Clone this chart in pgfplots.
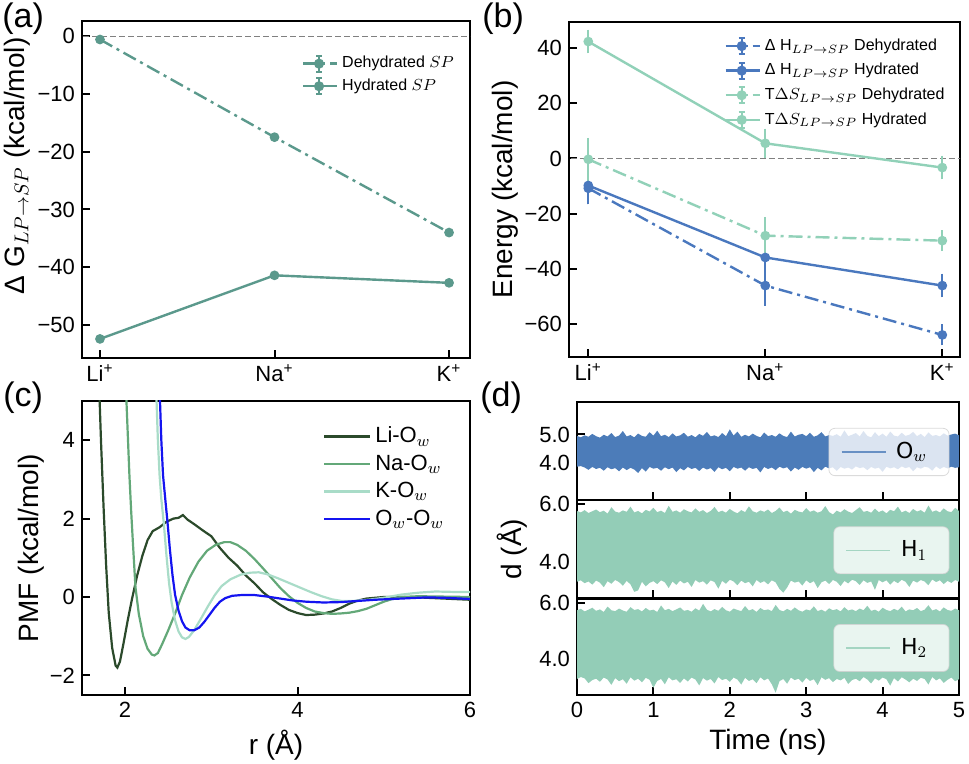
\documentclass[border=0pt]{standalone}
\usepackage{fontspec}
\setmainfont{Liberation Sans}
\newfontfamily\dejavu{DejaVu Sans}
\usepackage{pgfplots}
\pgfplotsset{compat=1.18}

\definecolor{tealA}{HTML}{5B998C}
\definecolor{hblue}{HTML}{4A78BE}
\definecolor{sgreen}{HTML}{91D1B8}
\definecolor{bandblue}{HTML}{4C7CB9}
\definecolor{bandgreen}{HTML}{93CDB7}
\definecolor{lio}{HTML}{2B4A2B}
\definecolor{nao}{HTML}{63A878}
\definecolor{ko}{HTML}{A9DCC8}
\definecolor{owblue}{HTML}{1414F0}

\tikzset{dashdot/.style={dash pattern=on 7pt off 2.5pt on 1.5pt off 2.5pt}}
\pgfplotsset{
  panel/.style={scale only axis, anchor=north west,
    axis line style={line width=1.3pt}, tick align=inside, tick pos=left,
    major tick length=4pt, tick style={line width=1pt, black},
    ticklabel style={font=\fontsize{11}{13}\selectfont},
    label style={font=\fontsize{14}{16}\selectfont}, legend cell align=left},
  mplot/.style={line width=1.2pt, mark=*, mark size=1.8pt, mark options={solid}},
  errplot/.style={mplot,
    error bars/.cd, y dir=both, y explicit,
    error bar style={solid, line width=1pt},
    error mark options={line width=1pt, mark size=2.5pt}},
}

\begin{document}
\begin{tikzpicture}
\useasboundingbox (0,0) rectangle (484.5pt,-382pt);

% (a)
\node[anchor=north west, inner sep=0pt, font=\fontsize{17}{19}\selectfont] at (1pt,-1pt) {(a)};
\begin{axis}[panel, at={(41pt,-10.5pt)}, width=194pt, height=168.5pt,
  xmin=-0.103, xmax=2.12, ymin=-55.7, ymax=2.6,
  xtick={0,1,2}, xticklabels={Li\textsuperscript{+},Na\textsuperscript{+},K\textsuperscript{+}},
  ytick={-50,-40,-30,-20,-10,0}, yticklabels={−50,−40,−30,−20,−10,0},
  ylabel={Δ G$_{LP\to SP}$ (kcal/mol)},
  ylabel style={at={(axis description cs:-0.168,0.57)}, anchor=center},
  legend style={draw=none, fill=none, at={(axis description cs:0.985,0.92)}, anchor=north east,
    font=\fontsize{8}{9.5}\selectfont, row sep=0pt},
  legend image code/.code={
    \draw[#1] (0pt,0pt) -- (17pt,0pt);
    \draw[#1,solid,line width=0.9pt] (8pt,-4pt) -- (8pt,4pt) (6.5pt,4pt) -- (9.5pt,4pt) (6.5pt,-4pt) -- (9.5pt,-4pt);
    \fill[#1,solid] (8pt,0pt) circle (1.9pt);}]
\addplot[gray, line width=0.5pt, dash pattern=on 3pt off 1.5pt, forget plot] coordinates {(-0.2,0) (2.2,0)};
\addplot[tealA, dashdot, mplot] coordinates {(0,-0.6) (1,-17.5) (2,-34.0)};
\addlegendentry{Dehydrated $SP$}
\addplot[tealA, mplot] coordinates {(0,-52.4) (1,-41.4) (2,-42.7)};
\addlegendentry{Hydrated $SP$}
\end{axis}

% (b)
\node[anchor=north west, inner sep=0pt, font=\fontsize{17}{19}\selectfont] at (241pt,-1pt) {(b)};
\begin{axis}[panel, at={(284.5pt,-11pt)}, width=195.5pt, height=167.5pt,
  xmin=-0.109, xmax=2.10, ymin=-72, ymax=49.5,
  xtick={0,1,2}, xticklabels={Li\textsuperscript{+},Na\textsuperscript{+},K\textsuperscript{+}},
  ytick={-60,-40,-20,0,20,40}, yticklabels={−60,−40,−20,0,20,40},
  ylabel={Energy (kcal/mol)},
  ylabel style={at={(axis description cs:-0.164,0.5)}, anchor=center},
  legend style={draw=none, fill=none, at={(axis description cs:0.987,0.975)}, anchor=north east,
    font=\fontsize{8}{9.5}\selectfont, row sep=1pt},
  legend image code/.code={
    \draw[#1] (0pt,0pt) -- (17pt,0pt);
    \draw[#1,solid,line width=0.9pt] (8pt,-4pt) -- (8pt,4pt) (6.5pt,4pt) -- (9.5pt,4pt) (6.5pt,-4pt) -- (9.5pt,-4pt);
    \fill[#1,solid] (8pt,0pt) circle (1.9pt);}]
\addplot[gray, line width=0.5pt, dash pattern=on 3pt off 1.5pt, forget plot] coordinates {(-0.2,0) (2.2,0)};
\addplot[hblue, dashdot, errplot] coordinates {(0,-10.8) +- (0,4) (1,-46.1) +- (0,5.5) (2,-64.0) +- (0,2)};
\addlegendentry{Δ H$_{LP\to SP}$ Dehydrated}
\addplot[hblue, errplot] coordinates {(0,-9.8) +- (0,5) (1,-35.9) +- (0,3.5) (2,-46.1) +- (0,2.5)};
\addlegendentry{Δ H$_{LP\to SP}$ Hydrated}
\addplot[sgreen, dashdot, errplot] coordinates {(0,-0.3) +- (0,6) (1,-28.0) +- (0,5) (2,-29.8) +- (0,2)};
\addlegendentry{T$\Delta S_{LP\to SP}$ Dehydrated}
\addplot[sgreen, errplot] coordinates {(0,42.4) +- (0,2.5) (1,5.5) +- (0,3.5) (2,-3.3) +- (0,2.5)};
\addlegendentry{T$\Delta S_{LP\to SP}$ Hydrated}
\end{axis}

% (c)
\node[anchor=north west, inner sep=0pt, font=\fontsize{17}{19}\selectfont] at (1.5pt,-190.5pt) {(c)};
\begin{axis}[panel, at={(41pt,-200.5pt)}, width=194pt, height=147pt,
  xmin=1.5, xmax=6, ymin=-2.5, ymax=5,
  xtick={2,4,6}, xticklabels={2,4,6}, ytick={-2,0,2,4}, yticklabels={−2,0,2,4},
  xlabel={r (Å)}, ylabel={PMF (kcal/mol)},
  xlabel style={at={(axis description cs:0.5,-0.17)}, anchor=center},
  ylabel style={at={(axis description cs:-0.13,0.5)}, anchor=center},
  legend style={draw=none, fill=none, at={(axis description cs:0.96,0.94)}, anchor=north east,
    font=\fontsize{11}{13}\selectfont, row sep=0.5pt},
  legend image code/.code={\draw[#1] (0pt,0pt) -- (23pt,0pt);},
  every axis plot/.append style={line width=1.1pt}]
\addplot[lio] coordinates {(1.70,5.3) (1.72,4.0) (1.75,2.3) (1.78,0.8) (1.81,-0.4) (1.85,-1.3) (1.89,-1.75) (1.91,-1.80) (1.94,-1.65) (1.98,-1.2) (2.03,-0.6) (2.08,-0.05) (2.14,0.55) (2.20,1.05) (2.26,1.45) (2.32,1.68) (2.40,1.78) (2.48,1.92) (2.56,2.0) (2.62,2.02) (2.67,2.09) (2.72,1.98) (2.80,1.86) (2.90,1.70) (3.00,1.55) (3.10,1.25) (3.20,1.00) (3.30,0.80) (3.40,0.55) (3.50,0.35) (3.60,0.12) (3.70,-0.05) (3.80,-0.20) (3.90,-0.33) (4.00,-0.41) (4.10,-0.46) (4.20,-0.45) (4.30,-0.42) (4.40,-0.37) (4.50,-0.28) (4.60,-0.17) (4.70,-0.09) (4.80,-0.04) (4.90,-0.02) (5.00,0.0) (5.20,0.0) (5.40,-0.01) (5.60,-0.03) (5.80,-0.05) (6.00,-0.07)};
\addlegendentry{Li-O$_w$}
\addplot[nao] coordinates {(2.01,5.3) (2.03,4.2) (2.05,3.1) (2.07,2.2) (2.09,1.4) (2.12,0.25) (2.16,-0.45) (2.21,-1.0) (2.26,-1.32) (2.31,-1.47) (2.34,-1.49) (2.38,-1.43) (2.43,-1.20) (2.50,-0.85) (2.58,-0.42) (2.66,0.05) (2.75,0.50) (2.85,0.90) (2.95,1.18) (3.05,1.33) (3.15,1.40) (3.22,1.40) (3.30,1.33) (3.40,1.18) (3.50,0.97) (3.60,0.73) (3.70,0.48) (3.80,0.23) (3.90,0.02) (4.00,-0.15) (4.10,-0.28) (4.20,-0.37) (4.30,-0.41) (4.40,-0.43) (4.50,-0.42) (4.60,-0.40) (4.70,-0.36) (4.80,-0.30) (4.90,-0.21) (5.00,-0.12) (5.10,-0.05) (5.20,0.0) (5.40,0.02) (5.70,0.01) (6.00,0.0)};
\addlegendentry{Na-O$_w$}
\addplot[ko] coordinates {(2.36,5.3) (2.38,4.0) (2.40,3.1) (2.42,2.5) (2.45,1.85) (2.48,1.05) (2.51,0.35) (2.54,-0.15) (2.58,-0.60) (2.62,-0.88) (2.66,-1.03) (2.70,-1.07) (2.74,-1.02) (2.80,-0.85) (2.88,-0.55) (2.96,-0.24) (3.04,0.05) (3.12,0.28) (3.22,0.45) (3.34,0.57) (3.45,0.62) (3.55,0.63) (3.65,0.58) (3.77,0.48) (3.90,0.36) (4.04,0.23) (4.16,0.12) (4.28,0.02) (4.40,-0.06) (4.51,-0.10) (4.65,-0.10) (4.82,-0.07) (5.00,-0.02) (5.20,0.06) (5.40,0.11) (5.60,0.14) (5.80,0.13) (6.00,0.13)};
\addlegendentry{K-O$_w$}
\addplot[owblue] coordinates {(2.40,5.3) (2.42,4.0) (2.44,3.1) (2.47,2.4) (2.49,1.95) (2.52,1.2) (2.55,0.55) (2.58,0.05) (2.62,-0.35) (2.66,-0.62) (2.70,-0.78) (2.75,-0.85) (2.80,-0.85) (2.86,-0.78) (2.92,-0.63) (2.98,-0.45) (3.04,-0.27) (3.10,-0.12) (3.16,-0.03) (3.24,0.03) (3.35,0.05) (3.50,0.05) (3.65,0.01) (3.80,-0.04) (3.95,-0.09) (4.10,-0.12) (4.30,-0.14) (4.50,-0.13) (4.70,-0.10) (4.90,-0.07) (5.10,-0.05) (5.30,-0.03) (5.50,-0.01) (5.70,-0.02) (6.00,-0.05)};
\addlegendentry{O$_w$-O$_w$}
\end{axis}

% (d)
\node[anchor=north west, inner sep=0pt, font=\fontsize{17}{19}\selectfont] at (240pt,-190.5pt) {(d)};
\pgfplotsset{dpanel/.style={panel, width=191pt, xmin=0, xmax=5, ymin=2.72, ymax=6.13,
  xtick={0,1,2,3,4,5},
  legend style={at={(axis description cs:0.975,0.49)}, anchor=east, fill=white, fill opacity=0.8,
    draw=gray!35, draw opacity=0.8, text opacity=1, rounded corners=3pt,
    font=\dejavu\fontsize{11}{13}\selectfont, inner xsep=6pt, inner ysep=5pt,
    nodes={inner xsep=5pt}},
  legend image code/.code={\draw[#1] (0pt,0pt) -- (22pt,0pt);}}}
\begin{axis}[dpanel, at={(288.5pt,-201pt)}, height=49pt, xticklabels={},
  ytick={4,5}, yticklabels={4.0,5.0}]
\addplot[fill=bandblue, draw=none, forget plot] coordinates {
(0.00,4.95) (0.05,4.90) (0.10,4.97) (0.15,4.92) (0.20,5.02) (0.25,4.94) (0.30,4.89) (0.35,4.99) (0.40,4.93) (0.45,5.05) (0.50,4.91) (0.55,4.96) (0.60,5.12) (0.65,4.93) (0.70,4.98) (0.75,4.90) (0.80,5.03) (0.85,4.95) (0.90,4.92) (0.95,5.08) (1.00,4.96) (1.05,5.13) (1.10,4.94) (1.15,4.99) (1.20,4.91) (1.25,5.04) (1.30,4.93) (1.35,4.97) (1.40,5.06) (1.45,4.92) (1.50,4.98) (1.55,4.90) (1.60,5.02) (1.65,4.95) (1.70,5.09) (1.75,4.93) (1.80,4.97) (1.85,4.91) (1.90,5.05) (1.95,4.94) (2.00,5.18) (2.05,4.96) (2.10,5.10) (2.15,4.92) (2.20,4.99) (2.25,4.93) (2.30,5.03) (2.35,4.95) (2.40,4.90) (2.45,5.07) (2.50,4.94) (2.55,4.98) (2.60,4.92) (2.65,5.04) (2.70,4.95) (2.75,4.91) (2.80,5.10) (2.85,4.93) (2.90,4.99) (2.95,5.02) (3.00,4.94) (3.05,5.06) (3.10,4.92) (3.15,4.97) (3.20,5.08) (3.25,4.93) (3.30,4.98) (3.35,4.95) (3.40,5.01) (3.45,4.92) (3.50,5.14) (3.55,4.94) (3.60,4.99) (3.65,5.05) (3.70,4.93) (3.75,5.12) (3.80,4.95) (3.85,4.90) (3.90,5.08) (3.95,4.94) (4.00,5.03) (4.05,4.92) (4.10,5.10) (4.15,4.96) (4.20,4.93) (4.25,5.06) (4.30,4.95) (4.35,4.99) (4.40,5.09) (4.45,4.94) (4.50,5.02) (4.55,4.91) (4.60,5.07) (4.65,4.95) (4.70,4.98) (4.75,4.93) (4.80,5.04) (4.85,4.96) (4.90,5.00) (4.95,5.03) (5.00,4.97)
(5.00,3.86) (4.95,3.84) (4.90,3.88) (4.85,3.82) (4.80,3.87) (4.75,3.80) (4.70,3.89) (4.65,3.74) (4.60,3.85) (4.55,3.88) (4.50,3.81) (4.45,3.86) (4.40,3.72) (4.35,3.87) (4.30,3.83) (4.25,3.89) (4.20,3.79) (4.15,3.86) (4.10,3.82) (4.05,3.88) (4.00,3.70) (3.95,3.85) (3.90,3.81) (3.85,3.87) (3.80,3.76) (3.75,3.86) (3.70,3.83) (3.65,3.89) (3.60,3.78) (3.55,3.85) (3.50,3.81) (3.45,3.87) (3.40,3.73) (3.35,3.86) (3.30,3.82) (3.25,3.88) (3.20,3.75) (3.15,3.84) (3.10,3.69) (3.05,3.86) (3.00,3.81) (2.95,3.87) (2.90,3.77) (2.85,3.85) (2.80,3.71) (2.75,3.86) (2.70,3.82) (2.65,3.88) (2.60,3.76) (2.55,3.85) (2.50,3.80) (2.45,3.87) (2.40,3.68) (2.35,3.84) (2.30,3.80) (2.25,3.86) (2.20,3.74) (2.15,3.85) (2.10,3.81) (2.05,3.87) (2.00,3.72) (1.95,3.84) (1.90,3.79) (1.85,3.86) (1.80,3.70) (1.75,3.83) (1.70,3.78) (1.65,3.85) (1.60,3.73) (1.55,3.84) (1.50,3.80) (1.45,3.87) (1.40,3.75) (1.35,3.83) (1.30,3.69) (1.25,3.85) (1.20,3.79) (1.15,3.86) (1.10,3.74) (1.05,3.84) (1.00,3.81) (0.95,3.87) (0.90,3.71) (0.85,3.83) (0.80,3.66) (0.75,3.78) (0.70,3.84) (0.65,3.76) (0.60,3.85) (0.55,3.72) (0.50,3.83) (0.45,3.79) (0.40,3.86) (0.35,3.74) (0.30,3.84) (0.25,3.80) (0.20,3.87) (0.15,3.77) (0.10,3.85) (0.05,3.90) (0.00,3.88)};
\addlegendimage{bandblue, line width=0.6pt}
\addlegendentry{O$_w$}
\end{axis}
\begin{axis}[dpanel, at={(288.5pt,-250pt)}, height=49.25pt, xticklabels={},
  ytick={4,6}, yticklabels={4.0,6.0}, ylabel={d (Å)},
  ylabel style={at={(axis description cs:-0.171,0.5)}, anchor=center}]
\addplot[fill=bandgreen, draw=none, forget plot] coordinates {
(0.00,5.75) (0.05,5.70) (0.10,5.78) (0.15,5.68) (0.20,5.74) (0.25,5.80) (0.30,5.71) (0.35,5.76) (0.40,5.66) (0.45,5.88) (0.50,5.73) (0.55,5.69) (0.60,5.77) (0.65,5.72) (0.70,5.90) (0.75,5.70) (0.80,5.75) (0.85,5.67) (0.90,5.79) (0.95,5.73) (1.00,5.86) (1.05,5.71) (1.10,5.76) (1.15,5.68) (1.20,5.93) (1.25,5.72) (1.30,5.77) (1.35,5.69) (1.40,5.81) (1.45,5.74) (1.50,5.70) (1.55,5.84) (1.60,5.72) (1.65,5.78) (1.70,5.68) (1.75,5.75) (1.80,5.89) (1.85,5.71) (1.90,5.76) (1.95,5.69) (2.00,5.82) (2.05,5.73) (2.10,5.67) (2.15,5.78) (2.20,5.71) (2.25,5.91) (2.30,5.74) (2.35,5.69) (2.40,5.77) (2.45,5.72) (2.50,5.80) (2.55,5.68) (2.60,5.75) (2.65,5.87) (2.70,5.71) (2.75,5.76) (2.80,5.66) (2.85,5.79) (2.90,5.73) (2.95,5.70) (3.00,5.85) (3.05,5.72) (3.10,5.77) (3.15,5.69) (3.20,5.74) (3.25,5.92) (3.30,5.71) (3.35,5.63) (3.40,5.76) (3.45,5.70) (3.50,5.81) (3.55,5.73) (3.60,5.68) (3.65,5.78) (3.70,5.88) (3.75,5.72) (3.80,5.75) (3.85,5.69) (3.90,5.83) (3.95,5.71) (4.00,5.77) (4.05,5.67) (4.10,5.79) (4.15,5.74) (4.20,5.90) (4.25,5.70) (4.30,5.76) (4.35,5.68) (4.40,5.82) (4.45,5.73) (4.50,5.78) (4.55,5.69) (4.60,5.94) (4.65,5.72) (4.70,5.77) (4.75,5.70) (4.80,5.84) (4.85,5.74) (4.90,5.71) (4.95,5.86) (5.00,5.75)
(5.00,3.30) (4.95,3.36) (4.90,3.26) (4.85,3.33) (4.80,3.22) (4.75,3.35) (4.70,3.29) (4.65,3.38) (4.60,3.18) (4.55,3.31) (4.50,3.36) (4.45,3.27) (4.40,3.34) (4.35,3.12) (4.30,3.30) (4.25,3.37) (4.20,3.25) (4.15,3.33) (4.10,3.20) (4.05,3.35) (4.00,3.28) (3.95,3.36) (3.90,3.02) (3.85,3.31) (3.80,3.26) (3.75,3.35) (3.70,3.19) (3.65,3.32) (3.60,3.37) (3.55,3.24) (3.50,3.33) (3.45,3.15) (3.40,3.30) (3.35,3.36) (3.30,3.22) (3.25,3.34) (3.20,3.28) (3.15,3.08) (3.10,3.32) (3.05,3.25) (3.00,3.35) (2.95,3.17) (2.90,3.31) (2.85,3.27) (2.80,3.34) (2.75,3.10) (2.70,2.92) (2.65,3.05) (2.60,3.28) (2.55,3.35) (2.50,3.21) (2.45,3.32) (2.40,3.26) (2.35,3.36) (2.30,3.14) (2.25,3.30) (2.20,3.25) (2.15,3.34) (2.10,3.18) (2.05,3.31) (2.00,3.37) (1.95,3.23) (1.90,3.33) (1.85,3.06) (1.80,3.29) (1.75,3.35) (1.70,3.20) (1.65,3.32) (1.60,3.27) (1.55,3.36) (1.50,3.12) (1.45,3.30) (1.40,3.24) (1.35,3.34) (1.30,3.19) (1.25,3.31) (1.20,3.08) (1.15,3.28) (1.10,3.35) (1.05,3.22) (1.00,3.32) (0.95,3.26) (0.90,3.14) (0.85,3.30) (0.80,3.00) (0.75,2.95) (0.70,3.21) (0.65,3.33) (0.60,3.16) (0.55,3.29) (0.50,3.36) (0.45,3.23) (0.40,3.32) (0.35,3.11) (0.30,3.27) (0.25,3.34) (0.20,3.20) (0.15,3.31) (0.10,3.25) (0.05,3.35) (0.00,3.30)};
\addlegendimage{bandgreen, line width=0.6pt}
\addlegendentry{H$_1$}
\end{axis}
\begin{axis}[dpanel, at={(288.5pt,-299.5pt)}, height=48pt,
  xticklabels={0,1,2,3,4,5}, ytick={4,6}, yticklabels={4.0,6.0}, xlabel={Time (ns)},
  xlabel style={at={(axis description cs:0.5,-0.49)}, anchor=center}]
\addplot[fill=bandgreen, draw=none, forget plot] coordinates {
(0.00,5.73) (0.05,5.78) (0.10,5.69) (0.15,5.75) (0.20,5.82) (0.25,5.71) (0.30,5.76) (0.35,5.67) (0.40,5.86) (0.45,5.73) (0.50,5.70) (0.55,5.79) (0.60,5.72) (0.65,5.68) (0.70,5.84) (0.75,5.74) (0.80,5.77) (0.85,5.69) (0.90,5.81) (0.95,5.72) (1.00,5.75) (1.05,5.67) (1.10,5.90) (1.15,5.73) (1.20,5.78) (1.25,5.70) (1.30,5.76) (1.35,5.83) (1.40,5.71) (1.45,5.74) (1.50,5.68) (1.55,5.80) (1.60,5.72) (1.65,5.96) (1.70,5.75) (1.75,5.69) (1.80,5.77) (1.85,5.71) (1.90,5.85) (1.95,5.73) (2.00,5.68) (2.05,5.79) (2.10,5.74) (2.15,5.70) (2.20,5.88) (2.25,5.72) (2.30,5.77) (2.35,5.67) (2.40,5.81) (2.45,5.73) (2.50,5.76) (2.55,5.70) (2.60,5.92) (2.65,5.74) (2.70,5.69) (2.75,5.78) (2.80,5.71) (2.85,5.83) (2.90,5.73) (2.95,5.68) (3.00,5.76) (3.05,5.72) (3.10,5.87) (3.15,5.70) (3.20,5.75) (3.25,5.68) (3.30,5.80) (3.35,5.73) (3.40,5.77) (3.45,5.69) (3.50,5.84) (3.55,5.72) (3.60,5.76) (3.65,5.70) (3.70,5.79) (3.75,5.73) (3.80,5.89) (3.85,5.71) (3.90,5.75) (3.95,5.68) (4.00,5.82) (4.05,5.74) (4.10,5.70) (4.15,5.78) (4.20,5.72) (4.25,5.86) (4.30,5.69) (4.35,5.76) (4.40,5.73) (4.45,5.81) (4.50,5.70) (4.55,5.75) (4.60,5.91) (4.65,5.72) (4.70,5.77) (4.75,5.69) (4.80,5.83) (4.85,5.74) (4.90,5.71) (4.95,5.79) (5.00,5.73)
(5.00,3.28) (4.95,3.21) (4.90,3.34) (4.85,3.26) (4.80,3.15) (4.75,3.31) (4.70,3.24) (4.65,3.36) (4.60,3.09) (4.55,3.29) (4.50,3.33) (4.45,3.22) (4.40,3.30) (4.35,3.17) (4.30,3.27) (4.25,3.35) (4.20,3.20) (4.15,3.32) (4.10,3.05) (4.05,3.28) (4.00,3.34) (3.95,3.23) (3.90,3.31) (3.85,3.13) (3.80,3.27) (3.75,3.36) (3.70,3.21) (3.65,3.30) (3.60,3.25) (3.55,3.11) (3.50,3.33) (3.45,3.24) (3.40,3.29) (3.35,3.18) (3.30,3.32) (3.25,3.26) (3.20,3.35) (3.15,3.07) (3.10,3.28) (3.05,3.22) (3.00,3.33) (2.95,3.16) (2.90,3.30) (2.85,3.25) (2.80,3.34) (2.75,3.12) (2.70,3.29) (2.65,3.21) (2.60,2.80) (2.55,3.10) (2.50,3.31) (2.45,3.24) (2.40,3.35) (2.35,3.14) (2.30,3.28) (2.25,3.22) (2.20,3.33) (2.15,3.09) (2.10,3.27) (2.05,3.34) (2.00,3.19) (1.95,3.30) (1.90,3.25) (1.85,3.36) (1.80,3.13) (1.75,3.29) (1.70,3.23) (1.65,3.32) (1.60,3.06) (1.55,3.27) (1.50,3.34) (1.45,3.20) (1.40,3.31) (1.35,3.15) (1.30,3.28) (1.25,3.24) (1.20,3.35) (1.15,3.10) (1.10,3.29) (1.05,3.22) (1.00,2.98) (0.95,3.26) (0.90,3.33) (0.85,3.17) (0.80,3.30) (0.75,3.23) (0.70,3.35) (0.65,3.12) (0.60,3.28) (0.55,3.21) (0.50,3.32) (0.45,3.08) (0.40,3.27) (0.35,3.34) (0.30,3.19) (0.25,3.30) (0.20,3.25) (0.15,3.14) (0.10,3.31) (0.05,3.36) (0.00,3.29)};
\addlegendimage{bandgreen, line width=0.6pt}
\addlegendentry{H$_2$}
\end{axis}
\end{tikzpicture}
\end{document}
